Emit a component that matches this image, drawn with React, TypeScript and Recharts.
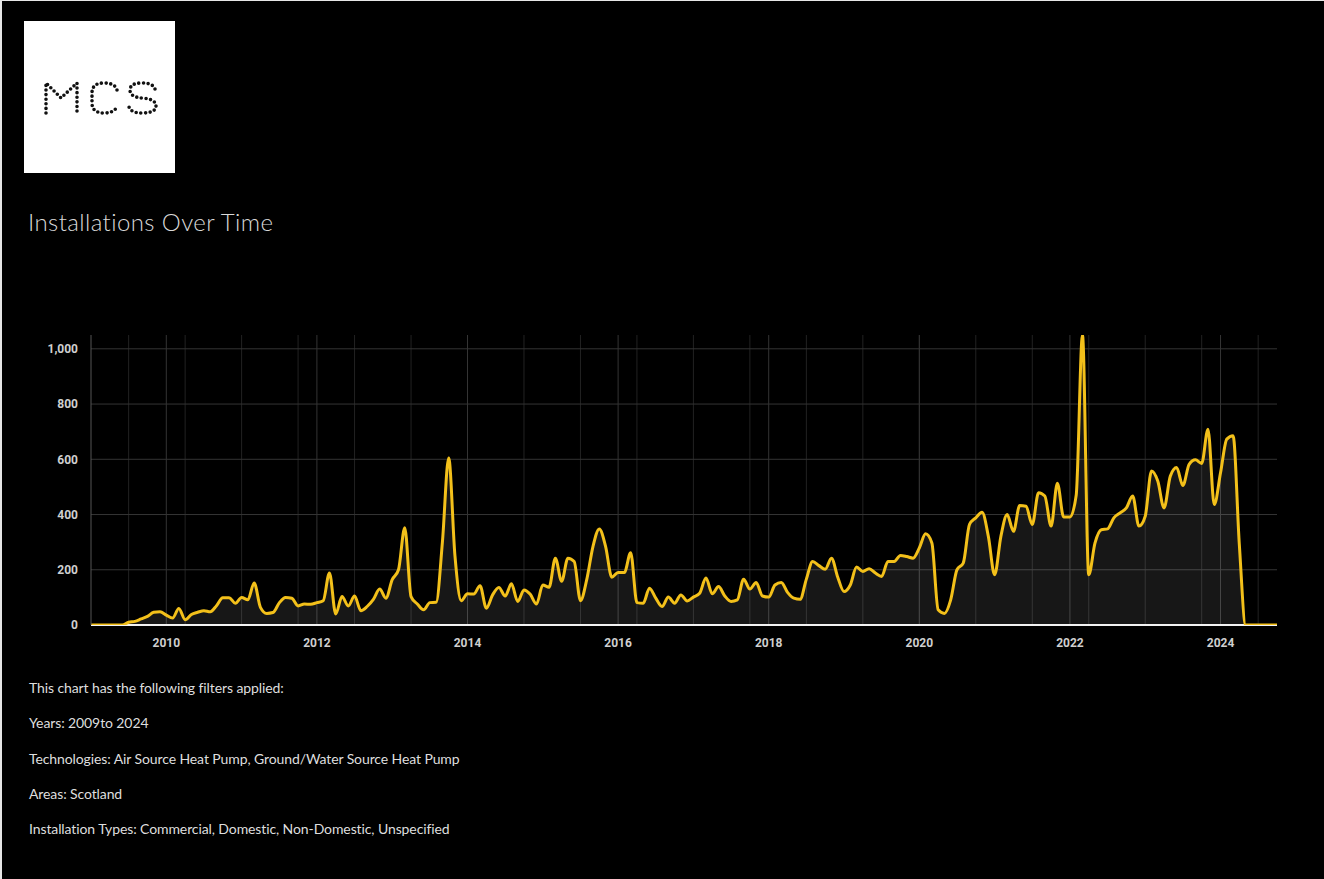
import React from 'react'
import { AreaChart, Area, XAxis, YAxis, CartesianGrid } from 'recharts'

// monthly installations, Jan of each year onward
const y2009 = [0, 0, 0, 0, 0, 0, 10, 13, 22, 31, 46, 48]
const y2010 = [36, 25, 60, 19, 38, 46, 52, 48, 70, 99, 99, 79]
const y2011 = [100, 91, 152, 64, 42, 45, 80, 100, 97, 69, 76, 75]
const y2012 = [81, 88, 188, 40, 103, 69, 105, 52, 67, 93, 130, 97]
const y2013 = [164, 200, 352, 103, 76, 55, 81, 82, 300, 605, 250, 88]
const y2014 = [113, 112, 142, 61, 109, 136, 105, 149, 85, 127, 111, 76]
const y2015 = [145, 137, 242, 158, 242, 230, 88, 164, 285, 348, 285, 173]
const y2016 = [190, 190, 262, 81, 79, 133, 97, 67, 101, 79, 109, 87]
const y2017 = [101, 115, 170, 113, 139, 105, 85, 91, 166, 130, 154, 105]
const y2018 = [101, 145, 154, 118, 97, 93, 166, 230, 215, 202, 242, 173]
const y2019 = [121, 145, 210, 194, 204, 188, 176, 230, 230, 252, 248, 242]
const y2020 = [279, 330, 297, 55, 42, 91, 200, 224, 364, 388, 408, 321]
const y2021 = [182, 321, 400, 339, 433, 430, 364, 479, 467, 358, 513, 391]
const y2022 = [391, 470, 1050, 182, 297, 345, 348, 388, 406, 424, 467, 358]
const y2023 = [394, 558, 521, 424, 539, 570, 505, 582, 598, 585, 709, 436]
const y2024 = [551, 673, 685, 290, 0, 0, 0, 0, 0, 0]

const years = [y2009, y2010, y2011, y2012, y2013, y2014, y2015, y2016, y2017, y2018, y2019, y2020, y2021, y2022, y2023, y2024]

const xTicks = [2010, 2012, 2014, 2016, 2018, 2020, 2022, 2024]
const yTicks = [0, 200, 400, 600, 800, 1000]

const filters = [
  'This chart has the following filters applied:',
  'Years: 2009to 2024',
  'Technologies: Air Source Heat Pump, Ground/Water Source Heat Pump',
  'Areas: Scotland',
  'Installation Types: Commercial, Domestic, Non-Domestic, Unspecified',
]

const data = years.flatMap((vals, yi) =>
  vals.map((v, m) => ({ t: 2009 + yi + m / 12, v }))
)

const quarterLines: number[] = []
for (let q = 2009.25; q < 2024.75; q += 0.25) quarterLines.push(q)

const axisFont = { fill: '#cfcfcf', fontSize: 12, fontWeight: 700, fontFamily: 'Roboto, sans-serif' }

const Logo = () => (
  <svg width={151} height={152} style={{ position: 'absolute', left: 22, top: 20 }}>
    <rect width={151} height={152} fill="#fff" />
    <g
      fill="none"
      stroke="#111"
      strokeWidth={3.6}
      strokeLinecap="round"
      strokeDasharray="0 4.6"
      transform="translate(-23,-20)"
    >
      <path d="M45,112 L45,82 L60,97 L76,82 L76,112" />
      <path d="M116,89 Q114,82 103,82 Q91,82 91,92 L91,102 Q91,112 103,112 Q114,112 116,105" />
      <path d="M154,88 Q152,82 141,82 Q129,82 129,89 Q129,96 141,97 Q155,98 155,105 Q155,112 141,112 Q130,112 128,106" />
    </g>
  </svg>
)

export default function App() {
  return (
    <div
      style={{
        position: 'relative',
        width: 1324,
        height: 879,
        background: '#000',
        borderLeft: '2px solid #e6e6e6',
        borderTop: '1px solid #e6e6e6',
        boxSizing: 'border-box',
        overflow: 'hidden',
      }}
    >
      <style>{`body{margin:0;background:#000}`}</style>
      <Logo />
      <div
        style={{
          position: 'absolute',
          left: 26,
          top: 206,
          fontFamily: 'Lato, sans-serif',
          fontSize: 24,
          letterSpacing: 0.4,
          color: '#d9d9d9',
          fontWeight: 300,
        }}
      >
        Installations Over Time
      </div>

      <div style={{ position: 'absolute', left: -2, top: 324 }}>
        <AreaChart width={1324} height={330} data={data} margin={{ top: 10, right: 47, bottom: 0, left: 0 }}>
          <CartesianGrid
            vertical
            horizontal={false}
            verticalValues={quarterLines}
            stroke="#222"
            strokeWidth={1}
          />
          <CartesianGrid vertical horizontal verticalValues={xTicks} horizontalValues={yTicks} stroke="#343434" strokeWidth={1} />
          <CartesianGrid vertical={false} horizontal horizontalValues={[0]} stroke="#f2f2f2" strokeWidth={2} />
          <XAxis
            dataKey="t"
            type="number"
            domain={[2009, 2024.75]}
            ticks={xTicks}
            tick={axisFont}
            tickLine={false}
            tickMargin={7}
            axisLine={false}
            height={30}
            allowDataOverflow
          />
          <YAxis
            type="number"
            domain={[0, 1050]}
            ticks={yTicks}
            tick={axisFont}
            tickFormatter={(v: number) => v.toLocaleString('en-US')}
            tickLine={false}
            tickMargin={7}
            axisLine={{ stroke: '#555' }}
            width={91}
            allowDataOverflow
          />
          <Area
            type="monotone"
            dataKey="v"
            stroke="#f3c01a"
            strokeWidth={3}
            fill="#ffffff"
            fillOpacity={0.09}
            dot={false}
            activeDot={false}
            isAnimationActive={false}
          />
        </AreaChart>
      </div>

      <div
        style={{
          position: 'absolute',
          left: 27,
          top: 678,
          fontFamily: 'Lato, sans-serif',
          fontSize: 14,
          color: '#dedede',
          letterSpacing: -0.1,
        }}
      >
        {filters.map((f) => (
          <div key={f} style={{ height: 35.25, lineHeight: '18px' }}>
            {f}
          </div>
        ))}
      </div>
    </div>
  )
}
